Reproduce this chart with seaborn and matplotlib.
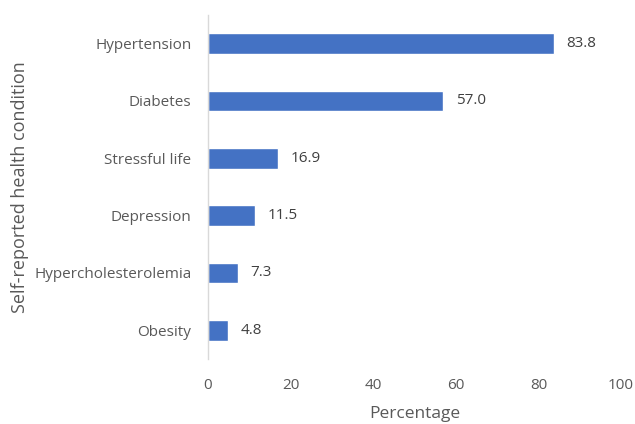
import matplotlib
matplotlib.use("Agg")
import matplotlib.pyplot as plt
import seaborn as sns
import pandas as pd

conditions = ["Hypertension", "Diabetes", "Stressful life", "Depression",
              "Hypercholesterolemia", "Obesity"]
percentages = [83.8, 57.0, 16.9, 11.5, 7.3, 4.8]
x_ticks = [0, 20, 40, 60, 80, 100]

df = pd.DataFrame({"condition": conditions, "pct": percentages})

sns.set_theme(style="white")
plt.rcParams["font.family"] = ["Open Sans", "DejaVu Sans"]
text_color = "#595959"

fig = plt.figure(figsize=(6.35, 4.24), dpi=100)
ax = fig.add_axes([208 / 635, 1 - 359 / 424, (621 - 208) / 635, 344 / 424])

sns.barplot(data=df, x="pct", y="condition", color="#4472C4",
            width=0.36, saturation=1, ax=ax, orient="h")

for i, v in enumerate(percentages):
    ax.text(v + 3, i, f"{v:.1f}", va="center", ha="left",
            fontsize=11, color="#404040")

ax.set_xlim(0, 100)
ax.set_xticks(x_ticks)
ax.set_xticklabels([str(t) for t in x_ticks])
ax.set_ylim(5.5, -0.5)

for s in ["top", "right", "bottom"]:
    ax.spines[s].set_visible(False)
ax.spines["left"].set_color("#D9D9D9")
ax.spines["left"].set_linewidth(1)

ax.tick_params(axis="both", length=0, labelsize=11, labelcolor=text_color)
ax.tick_params(axis="x", pad=14)
ax.tick_params(axis="y", pad=12)

ax.set_xlabel("Percentage", fontsize=12.5, color=text_color, labelpad=9)
ax.set_ylabel("Self-reported health condition", fontsize=13,
              color=text_color, labelpad=4)

fig.savefig("out.png", dpi=100)
